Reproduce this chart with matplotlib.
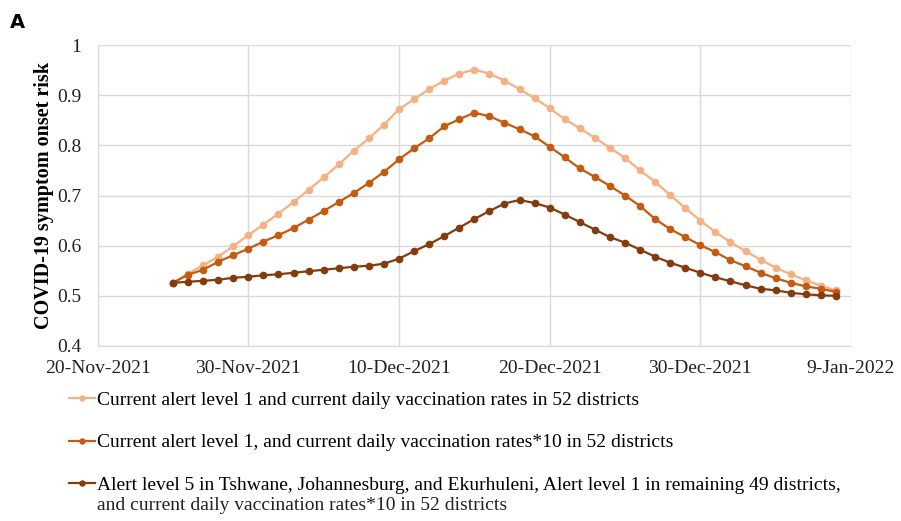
import matplotlib
matplotlib.use("Agg")
import matplotlib.pyplot as plt
import matplotlib.dates as mdates
import pandas as pd

# Data (daily, 25-Nov-2021 to 8-Jan-2022)
dates = pd.date_range("2021-11-25", "2022-01-08", freq="D")
level1_current = [0.526, 0.544, 0.561, 0.578, 0.599, 0.621, 0.642, 0.664, 0.687, 0.711,
                  0.736, 0.762, 0.789, 0.814, 0.841, 0.872, 0.892, 0.912, 0.929, 0.943,
                  0.951, 0.943, 0.929, 0.912, 0.894, 0.874, 0.852, 0.834, 0.815, 0.795,
                  0.775, 0.750, 0.727, 0.701, 0.675, 0.650, 0.627, 0.607, 0.589, 0.572,
                  0.556, 0.543, 0.531, 0.520, 0.511]
level1_vacc10 = [0.526, 0.542, 0.552, 0.568, 0.581, 0.594, 0.608, 0.621, 0.635, 0.652,
                 0.669, 0.687, 0.705, 0.725, 0.747, 0.772, 0.794, 0.814, 0.838, 0.852,
                 0.865, 0.858, 0.845, 0.832, 0.818, 0.797, 0.776, 0.754, 0.737, 0.719,
                 0.700, 0.679, 0.653, 0.633, 0.617, 0.601, 0.587, 0.571, 0.559, 0.546,
                 0.535, 0.526, 0.519, 0.514, 0.508]
level5_metros = [0.526, 0.528, 0.530, 0.532, 0.536, 0.538, 0.541, 0.543, 0.546, 0.549,
                 0.552, 0.555, 0.558, 0.560, 0.564, 0.574, 0.589, 0.603, 0.619, 0.636,
                 0.653, 0.669, 0.684, 0.691, 0.685, 0.676, 0.662, 0.647, 0.632, 0.617,
                 0.606, 0.592, 0.578, 0.566, 0.556, 0.546, 0.537, 0.529, 0.521, 0.514,
                 0.511, 0.506, 0.503, 0.501, 0.500]
labels = [
    "Current alert level 1 and current daily vaccination rates in 52 districts",
    "Current alert level 1, and current daily vaccination rates*10 in 52 districts",
    "Alert level 5 in Tshwane, Johannesburg, and Ekurhuleni, Alert level 1 in remaining 49 districts,",
]
label3_cont = "and current daily vaccination rates*10 in 52 districts"
colors = ["#F4B183", "#C55A11", "#843C0C"]
tick_dates = pd.date_range("2021-11-20", periods=6, freq="10D")

plt.rcParams["font.family"] = ["Liberation Serif", "DejaVu Serif"]

fig = plt.figure(figsize=(9.01, 5.21), dpi=100)
ax = fig.add_axes([0.1084, 0.3359, 0.8361, 0.5777])

handles = []
for series, color, label in zip([level1_current, level1_vacc10, level5_metros], colors, labels):
    h, = ax.plot(dates, series, color=color, marker="o", markersize=4.5, linewidth=1.6, label=label)
    handles.append(h)

ax.set_xlim(tick_dates[0], tick_dates[-1])
ax.set_ylim(0.4, 1.0)
ax.set_xticks(tick_dates)
ax.xaxis.set_major_formatter(mdates.DateFormatter("%-d-%b-%Y"))
ax.set_yticks([0.4, 0.5, 0.6, 0.7, 0.8, 0.9, 1.0])
ax.set_yticklabels(["0.4", "0.5", "0.6", "0.7", "0.8", "0.9", "1"])
ax.tick_params(length=0, labelsize=14, colors="#222222")
ax.tick_params(axis="x", pad=10)
ax.tick_params(axis="y", pad=12)
ax.grid(True, color="#D9D9D9", linewidth=1)
ax.set_axisbelow(True)
for side in ["top", "right"]:
    ax.spines[side].set_visible(False)
for side in ["left", "bottom"]:
    ax.spines[side].set_color("#D9D9D9")

ax.set_ylabel("COVID-19 symptom onset risk", fontsize=14.5, fontweight="bold", labelpad=2)

fig.text(0.011, 0.957, "A", fontsize=14, fontweight="bold", family="DejaVu Sans", va="center")

fig.legend(handles=handles, loc="upper left", bbox_to_anchor=(0.068, 0.264),
           frameon=False, fontsize=14, labelspacing=1.28, handlelength=1.35,
           handletextpad=0.1, borderaxespad=0, markerscale=0.8)
fig.text(97 / 901, 1 - 506 / 521, label3_cont, fontsize=14, va="center", ha="left", color="#222222")

fig.savefig("out.png", dpi=100)
